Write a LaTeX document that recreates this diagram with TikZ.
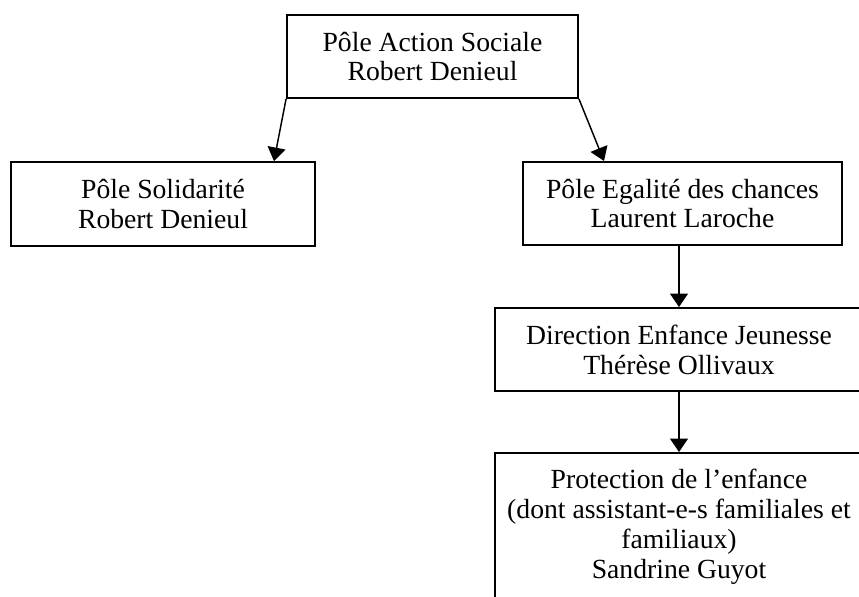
\documentclass[tikz,border=0pt]{standalone}
\usepackage{fontspec}
\setmainfont{Liberation Serif}
\usetikzlibrary{arrows.meta,calc}

\begin{document}
\begin{tikzpicture}[x=0.4444pt,y=-0.4444pt,>={Triangle[length=6pt,width=8pt]},
  box/.style={draw,rectangle,line width=0.85pt,align=center,inner sep=0pt,
    font=\fontsize{12.3pt}{13.3pt}\selectfont}]

  \path[use as bounding box,clip] (0,0) rectangle (859,597);

  \node[box,minimum width=129.3pt,minimum height=36.9pt] (action) at (432.5,56.5) {Pôle Action Sociale\\Robert Denieul};
  \node[box,minimum width=135.1pt,minimum height=37.3pt] (solid) at (163,204) {Pôle Solidarité\\Robert Denieul};
  \node[box,minimum width=141.8pt,minimum height=36.9pt] (egal) at (682.5,203.5) {Pôle Egalité des chances\\Laurent Laroche};
  \node[box,minimum width=163.6pt,minimum height=36.9pt] (dir) at (679,349.5) {Direction Enfance Jeunesse\\Thérèse Ollivaux};
  \node[box,minimum width=163.6pt,minimum height=65.8pt] (prot) at (679,527) {Protection de l’enfance\\(dont assistant-e-s familiales et\\familiaux)\\Sandrine Guyot};

  \path[->,line width=0.65pt]
  (action.south west) edge ($(solid.north east)+(-42,0)$)
  (action.south east) edge ($(egal.north west)+(82,0)$)
  (egal.south -| dir.north) edge (dir.north)
  (dir.south) edge (prot.north)
  ;
\end{tikzpicture}
\end{document}
